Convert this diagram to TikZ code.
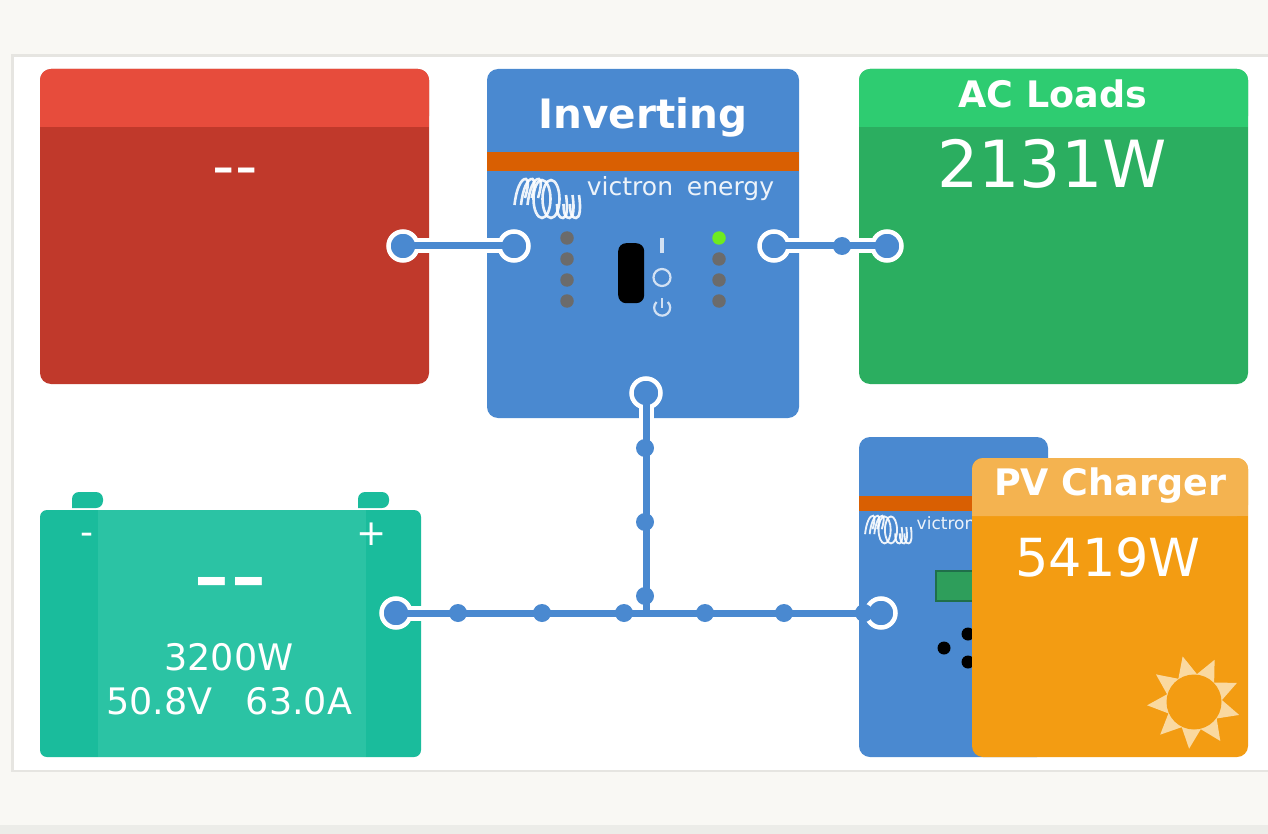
\documentclass[tikz,border=0pt]{standalone}
\usepackage{fontspec}
\newfontfamily\djv{DejaVu Sans}
\definecolor{pagebg}{HTML}{F9F8F4}
\definecolor{framec}{HTML}{E6E5E1}
\definecolor{stripc}{HTML}{ECECE8}
\definecolor{redbody}{HTML}{C0392B}
\definecolor{redhead}{HTML}{E74C3C}
\definecolor{vblue}{HTML}{4A89D0}
\definecolor{vorange}{HTML}{D95F02}
\definecolor{grbody}{HTML}{2BAE60}
\definecolor{grhead}{HTML}{2ECC71}
\definecolor{batside}{HTML}{1ABC9C}
\definecolor{batmid}{HTML}{2BC3A4}
\definecolor{pvbody}{HTML}{F39C12}
\definecolor{pvhead}{HTML}{F4B350}
\definecolor{sunc}{HTML}{FAD9A0}
\definecolor{ledgrey}{HTML}{6B6B6B}
\definecolor{ledgreen}{HTML}{6EEB1F}
\definecolor{dispg}{HTML}{2E9E5B}
\definecolor{dispe}{HTML}{1F6F4A}
\pgfdeclarelayer{under}
\pgfdeclarelayer{halo}
\pgfdeclarelayer{core}
\pgfsetlayers{under,halo,main,core}
\tikzset{
  block/.style={anchor=north west,inner sep=0pt,outer sep=0pt,rounded corners=11pt,draw=none},
  lbl/.style={anchor=base,inner sep=0pt,outer sep=0pt,text=white,font=\djv\fontsize{#1}{#1}\selectfont},
  blbl/.style={anchor=base,inner sep=0pt,outer sep=0pt,text=white,font=\djv\bfseries\fontsize{#1}{#1}\selectfont},
  ringnode/.style={circle,fill=vblue,draw=white,line width=4.5pt,minimum size=29pt,inner sep=0pt},
  fullnode/.style={circle,fill=vblue,draw=white,line width=4.5pt,minimum size=29pt,inner sep=0pt},
  flow/.style={circle,fill=vblue,draw=none,minimum size=18pt,inner sep=0pt},
  led/.style={circle,fill=ledgrey,draw=none,minimum size=13.5pt,inner sep=0pt},
  blackdot/.style={circle,fill=black,draw=none,minimum size=13pt,inner sep=0pt},
  wirehalo/.style={draw=white,line width=15pt},
  wirecore/.style={draw=vblue,line width=7pt},
  coil/.style={draw=white,opacity=.9},
}
\newcommand{\vlogo}[3]{%
  \begin{scope}[shift={(#1,#2)},scale=#3]
    \foreach \d in {0,6.5,13}{
      \draw[coil,line width=#3*2.6pt] (\d+1.5,27) .. controls (\d+3,12) and (\d+8,0) .. (\d+13,1) .. controls (\d+16,2) and (\d+15,10) .. (\d+12,20);
    }
    \foreach \c in {29,38}{
      \draw[coil,line width=#3*2.6pt] (\c,21) ellipse [x radius=8.5,y radius=19];
    }
    \foreach \d in {0,6.5,13}{
      \draw[coil,line width=#3*2.6pt] (\d+44,26) .. controls (\d+44,36) and (\d+46,40) .. (\d+50,40) .. controls (\d+54,40) and (\d+55,30) .. (\d+53,17);
    }
  \end{scope}}
\begin{document}
\begin{tikzpicture}[x=1pt,y=-1pt]
\useasboundingbox (0,0) rectangle (1268,834);
\begin{pgfonlayer}{under}
  % page
  \fill[pagebg] (0,0) rectangle (1268,834);
  \fill[stripc] (0,825) rectangle (1268,834);
  \fill[white,draw=framec,line width=2.5pt] (12.5,55.5) rectangle (1275,771);

  % generator
  \node[block,fill=redbody,minimum width=389pt,minimum height=315pt] (gen) at (40,69) {};
  \fill[redhead,rounded corners=11pt] (40,127) -- (40,69) -- (429,69) -- (429,127) [sharp corners] -- cycle;
  \fill[redhead] (40,100) rectangle (429,127);
  \node[lbl=62] (gentxt) at (235,188) {-{}-};

  % inverter
  \node[block,fill=vblue,minimum width=312pt,minimum height=349pt] (inv) at (487,69) {};
  \fill[vorange] (487,152) rectangle (799,171);
  \node[blbl=40.5] (invtxt) at (643,128.5) {Inverting};
  \vlogo{513}{178}{1}
  \node[lbl=25,text=white!90!vblue] (vict) at (630,196) {victron};
  \node[lbl=25,text=white!90!vblue] (ener) at (730.5,196) {energy};

  % AC loads
  \node[block,fill=grbody,minimum width=389pt,minimum height=315pt] (acl) at (859,69) {};
  \fill[grhead,rounded corners=11pt] (859,127) -- (859,69) -- (1248,69) -- (1248,127) [sharp corners] -- cycle;
  \fill[grhead] (859,100) rectangle (1248,127);
  \node[blbl=36.5] (acltxt) at (1053,107.5) {AC Loads};
  \node[lbl=65] (aclval) at (1052,188) {2131W};

  % battery
  \fill[batside,rounded corners=7pt] (72,508) -- (72,492) -- (103,492) -- (103,508) [sharp corners] -- cycle;
  \fill[batside,rounded corners=7pt] (358,508) -- (358,492) -- (389,492) -- (389,508) [sharp corners] -- cycle;
  \node[block,fill=batside,rounded corners=7pt,minimum width=381pt,minimum height=247pt] (bat) at (40,510) {};
  \fill[batmid] (98,510) rectangle (366,757);
  \node[lbl=36] (batm) at (87,544) {-};
  \node[lbl=36] (batp) at (372,545) {+};
  \node[lbl=102] (batd) at (230,609) {-{}-};
  \node[lbl=36.5] (batw) at (229,670) {3200W};
  \node[lbl=36.5] (batv) at (159.5,714) {50.8V};
  \node[lbl=36.5] (bata) at (299,714) {63.0A};

  % solar charger
  \node[block,fill=vblue,minimum width=189pt,minimum height=320pt] (mppt) at (859,437) {};
  \fill[vorange] (859,496) rectangle (1048,511);
  \vlogo{864}{515}{.71}
  \node[lbl=17,text=white!90!vblue] (mvict) at (946,529) {victron};
  \draw[fill=dispg,draw=dispe,line width=2pt] (936,571) rectangle (985,601);
  \node[blackdot] (kd1) at (944,648) {};
  \node[blackdot] (kd2) at (968,634) {};
  \node[blackdot] (kd3) at (968,662) {};

  % PV charger
  \node[block,fill=pvbody,minimum width=276pt,minimum height=299pt] (pv) at (972,458) {};
  \fill[pvhead,rounded corners=11pt] (972,516) -- (972,458) -- (1248,458) -- (1248,516) [sharp corners] -- cycle;
  \fill[pvhead] (972,490) rectangle (1248,516);
  \node[blbl=36.5] (pvtxt) at (1110,495.5) {PV Charger};
  \node[lbl=52.5] (pvval) at (1108,576) {5419W};
  \begin{scope}[shift={(1194,702)},yscale=-1]
    \fill[sunc] (104:47) \foreach \a in {64,24,-16,-56,-96,-136,-176,-216}{ -- (\a+20:28) -- (\a:47) } -- (124:28) -- cycle;
    \fill[pvbody] (0,0) circle (27.5);
  \end{scope}
\end{pgfonlayer}

% panel of the inverter, on the block
\node[led] (l1) at (567,238) {};
\node[led] (l2) at (567,259) {};
\node[led] (l3) at (567,280) {};
\node[led] (l4) at (567,301) {};
\node[led,fill=ledgreen] (r1) at (719,238) {};
\node[led] (r2) at (719,259) {};
\node[led] (r3) at (719,280) {};
\node[led] (r4) at (719,301) {};
\node[anchor=north west,inner sep=0pt,fill=black,rounded corners=8pt,minimum width=26pt,minimum height=60pt] (sw) at (618,243) {};
\draw[white!75!vblue,line width=3.5pt] (662,238) -- (662,253);
\draw[white!75!vblue,line width=2.2pt] (662,277.5) circle (8.5);
\draw[white!75!vblue,line width=2.2pt] (656.5,302) arc[start angle=225,end angle=-45,radius=8] ;
\draw[white!75!vblue,line width=2.2pt] (662,298) -- (662,308);

% end points of the connectors
\node[fullnode] (genp) at (403,246) {};
\node[ringnode] (invin) at (514,246) {};
\node[ringnode] (invout) at (774,246) {};
\node[fullnode] (aclp) at (887,246) {};
\node[ringnode] (invdc) at (646,393) {};
\node[fullnode] (batp2) at (396,613) {};
\node[ringnode] (mpptp) at (881,613) {};
\coordinate (junc) at (646,613);
\coordinate (mpptedge) at (mppt.west |- mpptp);

\begin{pgfonlayer}{halo}
  \draw[wirehalo] (genp.center) -- (invin.center);
  \draw[wirehalo] (invout.center) -- (aclp.center);
  \draw[wirehalo] (batp2.center) -- (mpptedge);
  \draw[wirehalo] (invdc.center) -- (junc);
\end{pgfonlayer}

\begin{pgfonlayer}{core}
  \draw[wirecore] (genp.center) -- (invin.center);
  \draw[wirecore] (invout.center) -- (aclp.center);
  \draw[wirecore] (batp2.center) -- (mpptp.center);
  \draw[wirecore] (invdc.center) -- (junc);
  \node[flow] (f1) at (842,246) {};
  \node[flow] (f2) at (645,448) {};
  \node[flow] (f3) at (645,522) {};
  \node[flow] (f4) at (645,596) {};
  \node[flow] (f5) at (458,613) {};
  \node[flow] (f6) at (542,613) {};
  \node[flow] (f7) at (624,613) {};
  \node[flow] (f8) at (705,613) {};
  \node[flow] (f9) at (784,613) {};
  \node[flow] (f10) at (864,613) {};
\end{pgfonlayer}
\end{tikzpicture}
\end{document}
